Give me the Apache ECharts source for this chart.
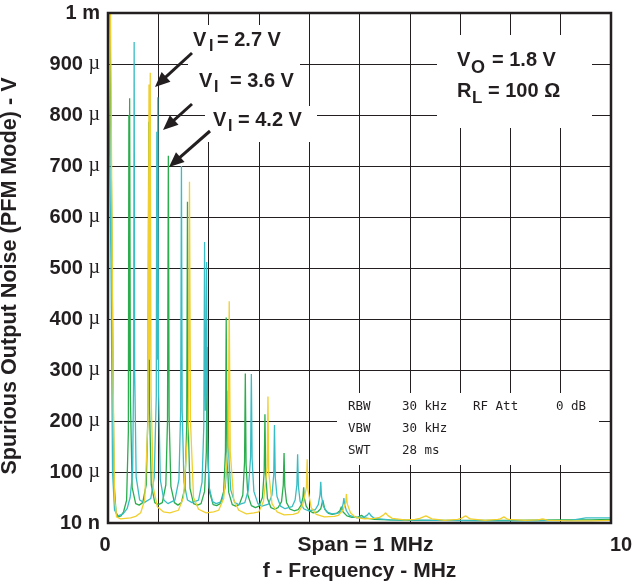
<!DOCTYPE html>
<html>
<head>
<meta charset="UTF-8">
<style>
html, body { margin: 0; padding: 0; background: #fff; }
#main { width: 632px; height: 585px; }
</style>
</head>
<body>
<div id="main"></div>
<script src="https://cdn.jsdelivr.net/npm/echarts@6/dist/echarts.min.js"></script>
<script>
// spectrum traces, [frequency MHz, noise uV]
var vi27 = [
	[0,1000],[0.05,1000],[0.08,1000],[0.1,300],[0.13,50],[0.17,12],[0.25,8],[0.35,9],[0.45,10],[0.55,13],
	[0.65,20],[0.73,45],[0.795,200],[0.815,860],[0.825,320],[0.84,883],[0.855,260],[0.9,70],[0.98,32],
	[1.1,22],[1.23,20],
	[1.4,25],[1.5,50],[1.6,200],[1.62,669],[1.64,200],[1.7,50],[1.8,27],
	[1.95,20],[2.1,22],
	[2.2,25],[2.3,48],[2.39,150],[2.41,435],[2.43,140],[2.5,45],[2.6,25],
	[2.75,18],[2.9,20],
	[3.0,22],[3.09,42],[3.165,110],[3.18,248],[3.195,100],[3.26,38],[3.36,22],
	[3.5,16],[3.68,17],
	[3.78,20],[3.87,35],[3.945,70],[3.96,125],[3.975,65],[4.04,30],[4.14,17],
	[4.3,12],[4.5,13],
	[4.58,15],[4.67,25],[4.725,40],[4.74,57],[4.755,38],[4.82,20],[4.92,11],
	[5.1,8],[5.3,9],
	[5.4,11],[5.48,16],[5.52,20],[5.56,15],[5.65,9],
	[5.9,6],[6.1,7],
	[6.2,9],[6.32,14],[6.44,8],
	[6.7,5],[6.95,7],
	[7.02,9],[7.11,14],[7.2,8],
	[7.5,5],[7.75,7],
	[7.8,8],[7.87,12],[7.95,7],
	[8.3,5],[8.55,6],[8.64,8],[8.75,5],
	[9.2,4],[9.6,4],[10,5]
];
var vi36 = [
	[0,1000],[0.03,1000],[0.06,500],[0.09,100],[0.13,25],[0.2,14],[0.3,18],[0.38,28],
	[0.44,50],[0.49,100],[0.51,300],[0.52,943],[0.53,300],[0.56,90],[0.63,45],
	[0.72,40],
	[0.85,48],[0.92,90],[0.96,250],[0.97,767],[0.98,320],[0.99,835],[1.005,260],[1.04,85],[1.11,45],
	[1.19,38],
	[1.33,45],[1.41,85],[1.445,220],[1.46,700],[1.475,220],[1.51,80],[1.58,45],
	[1.67,40],
	[1.8,45],[1.87,80],[1.905,190],[1.92,551],[1.935,220],[1.95,300],[1.96,512],[1.975,170],[2.01,70],[2.08,42],
	[2.15,38],
	[2.26,42],[2.33,70],[2.375,130],[2.39,260],[2.405,125],[2.44,65],[2.52,40],
	[2.6,36],
	[2.72,40],[2.79,65],[2.835,130],[2.85,292],[2.865,125],[2.9,62],[2.98,38],
	[3.06,33],
	[3.19,37],[3.26,55],[3.295,95],[3.31,192],[3.325,90],[3.36,52],[3.43,33],
	[3.52,28],
	[3.66,32],[3.72,45],[3.755,75],[3.77,135],[3.785,72],[3.82,42],[3.89,28],
	[3.98,24],
	[4.12,26],[4.18,36],[4.215,55],[4.23,81],[4.245,52],[4.28,33],[4.35,22],
	[4.45,18],
	[4.6,20],[4.65,28],[4.675,38],[4.69,49],[4.705,36],[4.74,24],[4.8,15],
	[4.95,10],
	[5.1,12],[5.16,16],[5.19,20],[5.23,14],[5.3,9],
	[5.6,6],[6.5,5],[7.5,4],[8.5,4],[9.2,5],[9.5,10],[9.9,10],[10,10]
];
var vi42 = [
	[0,1000],[0.04,1000],[0.07,1000],[0.09,400],[0.12,80],[0.16,20],[0.2,12],[0.26,14],
	[0.31,22],[0.37,45],[0.405,180],[0.415,800],[0.422,300],[0.43,833],[0.445,250],[0.48,70],[0.55,38],
	[0.62,35],
	[0.69,40],[0.76,75],[0.795,220],[0.81,787],[0.825,230],[0.86,75],[0.93,40],
	[1.0,36],
	[1.08,40],[1.15,75],[1.183,200],[1.2,720],[1.215,210],[1.25,72],[1.32,40],
	[1.39,35],
	[1.46,40],[1.53,70],[1.565,190],[1.58,630],[1.595,190],[1.63,68],[1.7,38],
	[1.78,35],
	[1.85,38],[1.92,62],[1.955,140],[1.97,345],[1.985,130],[2.02,60],[2.09,36],
	[2.16,34],
	[2.23,38],[2.3,62],[2.335,140],[2.35,403],[2.365,140],[2.4,60],[2.47,36],
	[2.54,33],
	[2.61,36],[2.68,55],[2.715,120],[2.73,293],[2.745,115],[2.78,55],[2.85,34],
	[2.93,30],
	[3.0,33],[3.07,50],[3.105,100],[3.12,213],[3.135,95],[3.17,48],[3.24,30],
	[3.31,27],
	[3.38,30],[3.45,42],[3.485,75],[3.5,137],[3.515,72],[3.55,40],[3.62,27],
	[3.7,24],
	[3.78,26],[3.84,35],[3.875,50],[3.89,70],[3.905,48],[3.94,33],[4.0,24],
	[4.08,20],
	[4.17,22],[4.23,28],[4.27,45],[4.31,27],[4.38,19],
	[4.46,17],
	[4.55,19],[4.61,24],[4.64,32],[4.67,22],[4.75,14],
	[4.85,11],
	[4.98,12],[5.04,15],[5.1,10],
	[5.3,7],[5.6,6],[6,5],[7,5],[8,5],[9,6],[9.6,6],[10,7]
];

var seriesNames = ['VI = 4.2 V', 'VI = 3.6 V', 'VI = 2.7 V'];
var seriesColors = ['#2aad4c', '#38bdc5', '#f0cf2e'];

var yLabelNums = ['10', '100', '200', '300', '400', '500', '600', '700', '800', '900', '1'];
var yLabelUnits = ['n', 'µ', 'µ', 'µ', 'µ', 'µ', 'µ', 'µ', 'µ', 'µ', 'm'];
var xLabelValues = [0, 5, 10];
var xLabelTexts = ['0', 'Span = 1 MHz', '10'];

var ink = '#231f20';

var myChart = echarts.init(document.getElementById('main'));

function arrow(x1, y1, x2, y2) {
	var dx = x2 - x1, dy = y2 - y1;
	var len = Math.sqrt(dx * dx + dy * dy);
	var ux = dx / len, uy = dy / len;
	var hl = 15, hw = 6.5;
	var bx = x2 - ux * hl, by = y2 - uy * hl;
	return [{
		type: 'line', z: 10,
		shape: { x1: x1, y1: y1, x2: bx + ux * 2, y2: by + uy * 2 },
		style: { stroke: ink, lineWidth: 3 }
	}, {
		type: 'polygon', z: 10,
		shape: { points: [[x2, y2], [bx - uy * hw, by + ux * hw], [bx + uy * hw, by - ux * hw]] },
		style: { fill: ink }
	}];
}

function txt(x, y, s, size, opts) {
	var o = {
		type: 'text', z: 10, x: x, y: y,
		style: {
			text: s, fill: ink,
			font: 'bold ' + size + 'px "Liberation Sans", Arial, sans-serif',
			verticalAlign: 'middle', align: 'left'
		}
	};
	if (opts && opts.family) o.style.font = size + 'px ' + opts.family;
	return o;
}

function box(x, y, w, h) {
	return { type: 'rect', z: 1, shape: { x: x, y: y, width: w, height: h }, style: { fill: '#fff' } };
}

var mono = '"DejaVu Sans Mono", monospace';
var graphics = [
	box(188, 25, 112, 41), box(194, 66, 111, 40), box(205, 106, 112, 36),
	box(437, 35, 155, 93),
	box(337, 393, 262, 72),
	txt(193, 40, 'V', 20), txt(209, 47, 'I', 16), txt(217, 40, '= 2.7 V', 20),
	txt(199, 81, 'V', 20), txt(214, 88, 'I', 16), txt(230, 81, '= 3.6 V', 20),
	txt(213, 120, 'V', 20), txt(228, 127, 'I', 16), txt(238, 120, '= 4.2 V', 20),
	txt(457, 60, 'V', 20), txt(471, 68, 'O', 18), txt(492, 60, '= 1.8 V', 20),
	txt(457, 91, 'R', 20), txt(472, 98, 'L', 17), txt(488, 91, '= 100 Ω', 20),
	txt(348, 407, 'RBW', 12.5, { family: mono }), txt(402, 407, '30 kHz', 12.5, { family: mono }),
	txt(473, 407, 'RF Att', 12.5, { family: mono }), txt(556, 407, '0 dB', 12.5, { family: mono }),
	txt(348, 429, 'VBW', 12.5, { family: mono }), txt(402, 429, '30 kHz', 12.5, { family: mono }),
	txt(348, 451, 'SWT', 12.5, { family: mono }), txt(402, 451, '28 ms', 12.5, { family: mono })
].concat(arrow(192, 53, 155, 87), arrow(192, 104, 163, 130), arrow(210, 131, 169, 167));

myChart.setOption({
	animation: false,
	backgroundColor: '#fff',
	grid: {
		left: 108, right: 21, top: 13, bottom: 62,
		outerBoundsMode: 'none', containLabel: false,
		show: true, borderColor: ink, borderWidth: 2.5, z: 3
	},
	xAxis: {
		type: 'value', min: 0, max: 10, interval: 1,
		name: 'f - Frequency - MHz',
		nameLocation: 'middle', nameGap: 35,
		nameTextStyle: { color: ink, fontSize: 21, fontWeight: 'bold', fontFamily: '"Liberation Sans", Arial, sans-serif' },
		axisLine: { show: false },
		axisTick: { show: false },
		axisLabel: {
			margin: 12,
			formatter: function (v) {
				var i = xLabelValues.indexOf(v);
				if (i < 0) return '';
				return '{p' + i + '|' + xLabelTexts[i] + '}';
			},
			rich: {
				p0: { color: ink, fontSize: 20, fontWeight: 'bold', fontFamily: 'Liberation Sans', padding: [0, 6, 0, 0] },
				p1: { color: ink, fontSize: 21, fontWeight: 'bold', fontFamily: 'Liberation Sans', padding: [0, 0, 0, 12] },
				p2: { color: ink, fontSize: 20, fontWeight: 'bold', fontFamily: 'Liberation Sans', padding: [0, 0, 0, 20] }
			}
		},
		splitLine: { show: true, lineStyle: { color: ink, width: 1 } }
	},
	yAxis: {
		type: 'value', min: 0, max: 1000, interval: 100,
		name: 'Spurious Output Noise (PFM Mode) - V',
		nameLocation: 'middle', nameGap: 87, nameRotate: 90,
		nameTextStyle: { color: ink, fontSize: 21.6, fontWeight: 'bold', fontFamily: '"Liberation Sans", Arial, sans-serif', padding: [0, 16, 0, 0] },
		axisLine: { show: false },
		axisTick: { show: false },
		axisLabel: {
			margin: 8,
			formatter: function (v) {
				var i = Math.round(v / 100);
				if (yLabelUnits[i] === 'µ') return '{n|' + yLabelNums[i] + ' }{u|µ}';
				return '{n|' + yLabelNums[i] + ' ' + yLabelUnits[i] + '}';
			},
			rich: {
				n: { color: ink, fontSize: 20, fontWeight: 'bold', fontFamily: 'Liberation Sans' },
				u: { color: ink, fontSize: 20, fontFamily: '"Liberation Serif", serif' }
			}
		},
		splitLine: { show: true, lineStyle: { color: ink, width: 1 } }
	},
	series: [vi42, vi36, vi27].map(function (d, k) {
		return {
			name: seriesNames[k], type: 'line', data: d,
			showSymbol: false, z: 2,
			lineStyle: { color: seriesColors[k], width: 1.3 },
			clip: true
		};
	}),
	graphic: graphics
});
</script>
</body>
</html>
